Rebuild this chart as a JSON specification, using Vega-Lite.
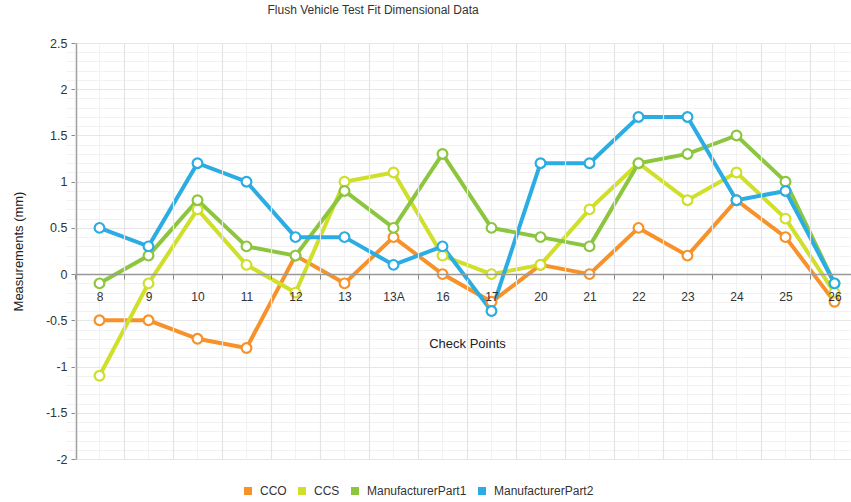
{
  "$schema": "https://vega.github.io/schema/vega-lite/v6.json",
  "autosize": "none",
  "width": 773,
  "height": 416,
  "padding": {"left": 76, "top": 43, "right": 2, "bottom": 43},
  "background": "white",
  "config": {
    "font": "Liberation Sans",
    "view": {"stroke": null},
    "axis": {"labelFont": "Liberation Sans", "titleFont": "Liberation Sans", "labelColor": "#333", "titleColor": "#222", "titleFontWeight": "normal"}
  },
  "title": {"text": "Flush Vehicle Test Fit Dimensional Data", "anchor": "start", "dx": 255, "offset": 20, "fontSize": 12, "fontWeight": "normal", "color": "#333", "font": "Liberation Sans"},
  "data": {"values": [
    {"point": "8", "series": "CCO", "value": -0.5},
    {"point": "9", "series": "CCO", "value": -0.5},
    {"point": "10", "series": "CCO", "value": -0.7},
    {"point": "11", "series": "CCO", "value": -0.8},
    {"point": "12", "series": "CCO", "value": 0.2},
    {"point": "13", "series": "CCO", "value": -0.1},
    {"point": "13A", "series": "CCO", "value": 0.4},
    {"point": "16", "series": "CCO", "value": 0.0},
    {"point": "17", "series": "CCO", "value": -0.3},
    {"point": "20", "series": "CCO", "value": 0.1},
    {"point": "21", "series": "CCO", "value": 0.0},
    {"point": "22", "series": "CCO", "value": 0.5},
    {"point": "23", "series": "CCO", "value": 0.2},
    {"point": "24", "series": "CCO", "value": 0.8},
    {"point": "25", "series": "CCO", "value": 0.4},
    {"point": "26", "series": "CCO", "value": -0.3},
    {"point": "8", "series": "CCS", "value": -1.1},
    {"point": "9", "series": "CCS", "value": -0.1},
    {"point": "10", "series": "CCS", "value": 0.7},
    {"point": "11", "series": "CCS", "value": 0.1},
    {"point": "12", "series": "CCS", "value": -0.2},
    {"point": "13", "series": "CCS", "value": 1.0},
    {"point": "13A", "series": "CCS", "value": 1.1},
    {"point": "16", "series": "CCS", "value": 0.2},
    {"point": "17", "series": "CCS", "value": 0.0},
    {"point": "20", "series": "CCS", "value": 0.1},
    {"point": "21", "series": "CCS", "value": 0.7},
    {"point": "22", "series": "CCS", "value": 1.2},
    {"point": "23", "series": "CCS", "value": 0.8},
    {"point": "24", "series": "CCS", "value": 1.1},
    {"point": "25", "series": "CCS", "value": 0.6},
    {"point": "26", "series": "CCS", "value": -0.2},
    {"point": "8", "series": "ManufacturerPart1", "value": -0.1},
    {"point": "9", "series": "ManufacturerPart1", "value": 0.2},
    {"point": "10", "series": "ManufacturerPart1", "value": 0.8},
    {"point": "11", "series": "ManufacturerPart1", "value": 0.3},
    {"point": "12", "series": "ManufacturerPart1", "value": 0.2},
    {"point": "13", "series": "ManufacturerPart1", "value": 0.9},
    {"point": "13A", "series": "ManufacturerPart1", "value": 0.5},
    {"point": "16", "series": "ManufacturerPart1", "value": 1.3},
    {"point": "17", "series": "ManufacturerPart1", "value": 0.5},
    {"point": "20", "series": "ManufacturerPart1", "value": 0.4},
    {"point": "21", "series": "ManufacturerPart1", "value": 0.3},
    {"point": "22", "series": "ManufacturerPart1", "value": 1.2},
    {"point": "23", "series": "ManufacturerPart1", "value": 1.3},
    {"point": "24", "series": "ManufacturerPart1", "value": 1.5},
    {"point": "25", "series": "ManufacturerPart1", "value": 1.0},
    {"point": "26", "series": "ManufacturerPart1", "value": -0.1},
    {"point": "8", "series": "ManufacturerPart2", "value": 0.5},
    {"point": "9", "series": "ManufacturerPart2", "value": 0.3},
    {"point": "10", "series": "ManufacturerPart2", "value": 1.2},
    {"point": "11", "series": "ManufacturerPart2", "value": 1.0},
    {"point": "12", "series": "ManufacturerPart2", "value": 0.4},
    {"point": "13", "series": "ManufacturerPart2", "value": 0.4},
    {"point": "13A", "series": "ManufacturerPart2", "value": 0.1},
    {"point": "16", "series": "ManufacturerPart2", "value": 0.3},
    {"point": "17", "series": "ManufacturerPart2", "value": -0.4},
    {"point": "20", "series": "ManufacturerPart2", "value": 1.2},
    {"point": "21", "series": "ManufacturerPart2", "value": 1.2},
    {"point": "22", "series": "ManufacturerPart2", "value": 1.7},
    {"point": "23", "series": "ManufacturerPart2", "value": 1.7},
    {"point": "24", "series": "ManufacturerPart2", "value": 0.8},
    {"point": "25", "series": "ManufacturerPart2", "value": 0.9},
    {"point": "26", "series": "ManufacturerPart2", "value": -0.1}
  ]},
  "layer": [
    {
      "mark": {"type": "line", "strokeWidth": 4, "strokeJoin": "miter"},
      "encoding": {
        "x": {
          "field": "point", "type": "nominal", "sort": null,
          "scale": {"type": "band", "range": [-1, 783], "paddingInner": 0, "paddingOuter": 0},
          "axis": {
            "orient": "bottom", "offset": -185, "tickBand": "extent", "title": "Check Points",
            "titleFontSize": 13, "titlePadding": 35, "labelFontSize": 12, "labelAngle": 0,
            "labelPadding": 12, "tickSize": 5, "tickColor": "#888", "domainColor": "#999", "domainWidth": 1.5,
            "grid": true, "gridColor": "#e4e4e4", "gridWidth": 1.2, "zindex": 1
          }
        },
        "y": {
          "field": "value", "type": "quantitative",
          "scale": {"domain": [-2, 2.5], "nice": false, "zero": false},
          "axis": {
            "orient": "left", "values": [-2, -1.5, -1, -0.5, 0, 0.5, 1, 1.5, 2, 2.5],
            "labelExpr": "'' + datum.value", "title": "Measurements (mm)", "titleFontSize": 13,
            "titlePadding": 20, "labelFontSize": 12.5, "labelPadding": 4, "tickSize": 5,
            "tickColor": "#888", "domainColor": "#999", "domainWidth": 1.5,
            "grid": true, "gridColor": "#e6e6e6", "gridWidth": 1
          }
        },
        "color": {
          "field": "series", "type": "nominal",
          "scale": {"domain": ["CCO", "CCS", "ManufacturerPart1", "ManufacturerPart2"], "range": ["#F7922A", "#CFDF2A", "#8CC63F", "#2BACE2"]},
          "legend": {
            "orient": "none", "legendX": 166, "legendY": 442, "direction": "horizontal", "title": null,
            "symbolType": "square", "symbolSize": 64, "labelFontSize": 12,
            "labelColor": "#333", "labelFont": "Liberation Sans", "labelOffset": 6, "columnPadding": 9,
            "encode": {"symbols": {"update": {"fill": {"scale": "color", "field": "value"}, "strokeWidth": {"value": 0}, "opacity": {"value": 1}}}}
          }
        }
      }
    },
    {
      "mark": {"type": "point", "shape": "circle", "filled": true, "fill": "white", "size": 95, "strokeWidth": 2.2, "opacity": 1},
      "encoding": {
        "x": {
          "field": "point", "type": "nominal", "sort": null,
          "axis": {"orient": "top", "grid": true, "gridColor": "#f2f2f2", "gridWidth": 1, "labels": false, "ticks": false, "domain": false, "title": null, "tickBand": "center"}
        },
        "y": {
          "field": "value", "type": "quantitative",
          "axis": {"orient": "right", "grid": true, "gridColor": "#f2f2f2", "gridWidth": 1, "labels": false, "ticks": false, "domain": false, "title": null,
            "values": [-1.9, -1.8, -1.7, -1.6, -1.4, -1.3, -1.2, -1.1, -0.9, -0.8, -0.7, -0.6, -0.4, -0.3, -0.2, -0.1, 0.1, 0.2, 0.3, 0.4, 0.6, 0.7, 0.8, 0.9, 1.1, 1.2, 1.3, 1.4, 1.6, 1.7, 1.8, 1.9, 2.1, 2.2, 2.3, 2.4]}
        },
        "stroke": {"field": "series", "type": "nominal", "scale": {"domain": ["CCO", "CCS", "ManufacturerPart1", "ManufacturerPart2"], "range": ["#F7922A", "#CFDF2A", "#8CC63F", "#2BACE2"]}, "legend": null}
      }
    }
  ],
  "resolve": {"axis": {"x": "independent", "y": "independent"}}
}
